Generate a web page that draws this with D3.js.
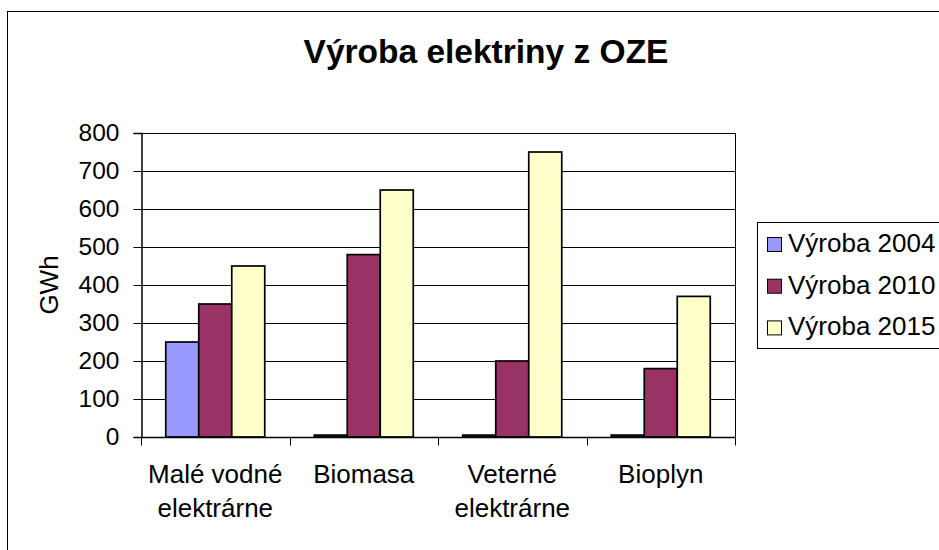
<!DOCTYPE html>
<html>
<head>
<meta charset="utf-8">
<script src="https://cdn.jsdelivr.net/npm/d3@7"></script>
<style>
  body { margin: 0; background: #fff; }
  svg { display: block; font-family: 'Liberation Sans', Arial, sans-serif; }
</style>
</head>
<body>
<div id="chart"></div>
<script>
const categories = [['Malé vodné', 'elektrárne'], ['Biomasa'], ['Veterné', 'elektrárne'], ['Bioplyn']]
const series = ['Výroba 2004', 'Výroba 2010', 'Výroba 2015']
const values2004 = [250, 5, 5, 5]
const values2010 = [350, 480, 200, 180]
const values2015 = [450, 650, 750, 370]
const yTicks = [0, 100, 200, 300, 400, 500, 600, 700, 800]
const colors = ['#9999FF', '#993366', '#FFFFCC']

const WIDTH = 939
const HEIGHT = 550
const PLOT = { LEFT: 141, RIGHT: 735, TOP: 133, BOTTOM: 437 }

const seriesValues = [values2004, values2010, values2015]
const catNames = categories.map(c => c.join(' '))

const svg = d3.select('#chart')
  .append('svg')
  .attr('width', WIDTH)
  .attr('height', HEIGHT)

// outer chart border
svg.append('rect')
  .attr('x', 7.5).attr('y', 11.5)
  .attr('width', 1000).attr('height', 600)
  .attr('fill', '#fff')
  .attr('stroke', '#000')

const x = d3.scaleBand().domain(catNames).range([PLOT.LEFT, PLOT.RIGHT])
const xInner = d3.scaleBand().domain(series).range([0, x.bandwidth()]).paddingInner(0).paddingOuter(0.75)
const y = d3.scaleLinear().domain([0, 800]).range([PLOT.BOTTOM, PLOT.TOP])

// gridlines
svg.append('g')
  .selectAll('line')
  .data(yTicks)
  .join('line')
  .attr('x1', PLOT.LEFT).attr('x2', PLOT.RIGHT)
  .attr('y1', d => Math.round(y(d)) + 0.5).attr('y2', d => Math.round(y(d)) + 0.5)
  .attr('stroke', '#000')

// right border of plot area
svg.append('line')
  .attr('x1', PLOT.RIGHT + 0.5).attr('x2', PLOT.RIGHT + 0.5)
  .attr('y1', PLOT.TOP).attr('y2', PLOT.BOTTOM)
  .attr('stroke', '#000')

// bars
const rows = []
catNames.forEach((c, i) => {
  series.forEach((s, j) => rows.push({ cat: c, s: s, v: seriesValues[j][i], j: j }))
})

svg.append('g')
  .selectAll('rect')
  .data(rows)
  .join('rect')
  .attr('x', d => x(d.cat) + xInner(d.s))
  .attr('y', d => y(d.v))
  .attr('width', xInner.bandwidth())
  .attr('height', d => y(0) - y(d.v))
  .attr('fill', d => colors[d.j])
  .attr('stroke', '#000')
  .attr('stroke-width', 1.7)

// y axis
const yAxis = svg.append('g')
  .attr('transform', `translate(${PLOT.LEFT + 0.5},0)`)
  .call(d3.axisLeft(y).tickValues(yTicks).tickSize(8).tickPadding(14))
yAxis.select('.domain').attr('stroke', '#000').attr('stroke-width', 1.5)
yAxis.selectAll('.tick line').attr('stroke', '#000')
yAxis.selectAll('.tick text')
  .attr('fill', '#000')
  .style('font-size', '24.5px')
  .style('font-family', "'Liberation Sans', Arial, sans-serif")

// x axis
const xAxis = svg.append('g')
  .attr('transform', `translate(0,${PLOT.BOTTOM + 0.5})`)
xAxis.append('line')
  .attr('x1', PLOT.LEFT).attr('x2', PLOT.RIGHT)
  .attr('stroke', '#000').attr('stroke-width', 1.5)
xAxis.selectAll('.xtick')
  .data(catNames.concat(['end']))
  .join('line')
  .attr('class', 'xtick')
  .attr('x1', (d, i) => Math.round(i < catNames.length ? x(d) : PLOT.RIGHT) + 0.5)
  .attr('x2', (d, i) => Math.round(i < catNames.length ? x(d) : PLOT.RIGHT) + 0.5)
  .attr('y1', 0).attr('y2', 8)
  .attr('stroke', '#000')

// category labels
const catLabels = svg.append('g')
  .selectAll('text')
  .data(categories)
  .join('text')
  .attr('x', (d, i) => x(catNames[i]) + x.bandwidth() / 2)
  .attr('y', 483)
  .attr('text-anchor', 'middle')
  .style('font-size', '26px')
  .attr('fill', '#000')
catLabels.selectAll('tspan')
  .data(d => d)
  .join('tspan')
  .attr('x', function () { return d3.select(this.parentNode).attr('x') })
  .attr('dy', (d, i) => (i === 0 ? 0 : 34))
  .text(d => d)

// y axis title
svg.append('text')
  .attr('transform', `translate(58,${(PLOT.TOP + PLOT.BOTTOM) / 2}) rotate(-90)`)
  .attr('text-anchor', 'middle')
  .style('font-size', '26px')
  .attr('fill', '#000')
  .text('GWh')

// title
svg.append('text')
  .attr('x', 486)
  .attr('y', 63)
  .attr('text-anchor', 'middle')
  .style('font-size', '33.5px')
  .style('font-weight', 'bold')
  .attr('fill', '#000')
  .text('Výroba elektriny z OZE')

// legend
const legend = svg.append('g')
legend.append('rect')
  .attr('x', 757.5).attr('y', 222.5)
  .attr('width', 200).attr('height', 126)
  .attr('fill', '#fff')
  .attr('stroke', '#000')

const items = legend.selectAll('.legendItem')
  .data(series)
  .join('g')
  .attr('class', 'legendItem')
  .attr('transform', (d, i) => `translate(0,${252 + i * 41.7})`)
items.append('rect')
  .attr('x', 767.5).attr('y', -14.5)
  .attr('width', 14).attr('height', 14)
  .attr('fill', (d, i) => colors[i])
  .attr('stroke', '#000')
items.append('text')
  .attr('x', 788)
  .attr('y', 0)
  .style('font-size', '26px')
  .attr('fill', '#000')
  .text(d => d)
</script>
</body>
</html>
